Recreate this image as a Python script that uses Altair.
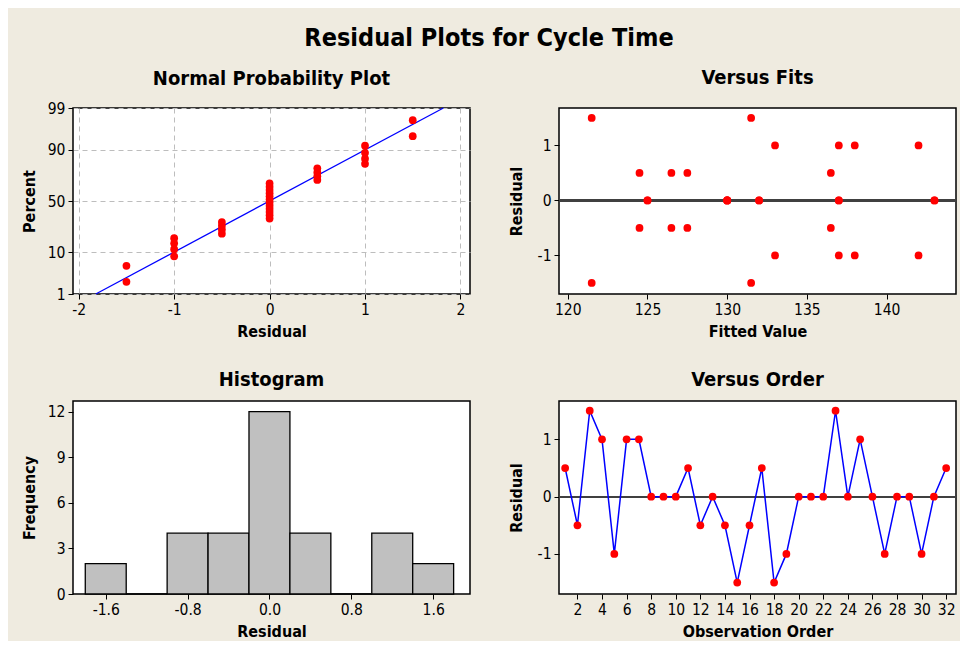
import altair as alt
import pandas as pd
import numpy as np
from statistics import NormalDist

FONT = "DejaVu Sans Condensed, DejaVu Sans, sans-serif"
BG = "#EFEBE0"
RED = "#FF0000"
BLUE = "#0000FF"

# ---- data ----
ORDER = list(range(1, 33))
RESIDUALS = [0.5, -0.5, 1.5, 1, -1, 1, 1, 0, 0, 0, 0.5, -0.5, 0, -0.5, -1.5, -0.5,
             0.5, -1.5, -1, 0, 0, 0, 1.5, 0, 1, 0, -1, 0, 0, -1, 0, 0.5]

FITTED = [121.5, 121.5, 124.5, 124.5, 125, 125, 126.5, 126.5, 127.5, 127.5,
          130, 130, 130, 130, 131.5, 131.5, 132, 132, 133, 133, 136.5, 136.5,
          137, 137, 137, 137, 138, 138, 142, 142, 143, 143]
FIT_RESID = [1.5, -1.5, 0.5, -0.5, 0, 0, 0.5, -0.5, 0.5, -0.5,
             0, 0, 0, 0, 1.5, -1.5, 0, 0, 1, -1, 0.5, -0.5,
             1, 0, 0, -1, 1, -1, 1, -1, 0, 0]

PERCENT_TICKS = [1, 10, 50, 90, 99]
NPP_X_GRID = [-2, -1.5, -1, -0.5, 0, 0.5, 1, 1.5, 2]
HIST_EDGES = [-1.8, -1.4, -1.0, -0.6, -0.2, 0.2, 0.6, 1.0, 1.4, 1.8]
HIST_TICKS = [-1.6, -0.8, 0.0, 0.8, 1.6]
FIT_TICKS = [120, 125, 130, 135, 140]
ORDER_TICKS = list(range(2, 33, 2))
RESID_TICKS = [-1, 0, 1]
FIT_LINE_PCT = [1, 99]

# ---- derived tables ----
n = len(RESIDUALS)
nd = NormalDist()
df_res = pd.DataFrame({"order": ORDER, "residual": RESIDUALS})
df_fit = pd.DataFrame({"fitted": FITTED, "residual": FIT_RESID})

mean_r = float(np.mean(RESIDUALS))
sd_r = float(np.std(RESIDUALS, ddof=1))
z_ticks = [nd.inv_cdf(p / 100) for p in PERCENT_TICKS]
z_line = [nd.inv_cdf(p / 100) for p in FIT_LINE_PCT]
df_line = pd.DataFrame({"z": z_line, "x": [mean_r + sd_r * z for z in z_line]})

counts, _ = np.histogram(np.array(RESIDUALS, dtype=float), bins=np.array(HIST_EDGES))
df_hist = pd.DataFrame({"lo": HIST_EDGES[:-1], "hi": HIST_EDGES[1:], "count": counts})

MINUS = "replace(datum.label, '\u2212', '-')"
PT = 60
W = 397

def axis(**kw):
    base = dict(tickSize=5, tickColor="black", tickWidth=1, domain=False,
                labelPadding=3, grid=False, labelExpr=MINUS)
    base.update(kw)
    return alt.Axis(**base)

def ptitle(text, offset):
    return alt.TitleParams(text, font=FONT, fontSize=20, fontWeight="bold",
                           color="black", frame="group", anchor="middle", offset=offset)

# ---- Normal probability plot ----
npp_x = alt.X("residual:Q", scale=alt.Scale(domain=[-2.06, 2.10], nice=False, zero=False),
              axis=axis(values=NPP_X_GRID, title="Residual", grid=True, gridDash=[5, 4],
                        gridColor="#BDBDBD", gridWidth=1, format="d",
                        labelExpr="datum.value % 1 == 0 ? replace(datum.label, '\u2212', '-') : ''",
                        tickOpacity={"condition": {"test": "datum.value % 1 == 0", "value": 1}, "value": 0}))
npp_y = alt.Y("z:Q", scale=alt.Scale(domain=[z_ticks[0], z_ticks[-1]], nice=False, zero=False),
              axis=axis(values=z_ticks, title="Percent", grid=True, gridDash=[5, 4],
                        gridColor="#BDBDBD", gridWidth=1, titlePadding=10,
                        labelExpr="'' + round(cumulativeNormal(datum.value) * 100)"))

npp_pts = alt.Chart(df_res).transform_window(
    window=[{"op": "row_number", "as": "rank"}],
    sort=[{"field": "residual", "order": "ascending"}],
).transform_calculate(
    z=f"quantileNormal((datum.rank - 0.3) / ({n} + 0.4))"
).mark_circle(color=RED, size=PT, opacity=1).encode(x=npp_x, y=npp_y)

npp_line = alt.Chart(df_line).mark_line(color=BLUE, strokeWidth=1.3).encode(
    x=alt.X("x:Q"), y=alt.Y("z:Q"))

npp = alt.layer(npp_line, npp_pts).properties(
    width=W, height=186, title=ptitle("Normal Probability Plot", 12))

# ---- Versus fits ----
fits_x = alt.X("fitted:Q", scale=alt.Scale(domain=[119.45, 144.35], nice=False, zero=False),
               axis=axis(values=FIT_TICKS, title="Fitted Value", format="d"))
resid_y = alt.Y("residual:Q", scale=alt.Scale(domain=[-1.70, 1.68], nice=False),
                axis=axis(values=RESID_TICKS, title="Residual", format="d", titlePadding=13))

fits_zero = alt.Chart(df_fit).mark_rule(color="#404040", strokeWidth=1.5).encode(y=alt.datum(0))
fits_pts = alt.Chart(df_fit).mark_circle(color=RED, size=PT, opacity=1).encode(x=fits_x, y=resid_y)
fits = alt.layer(fits_zero, fits_pts).properties(
    width=W, height=186, title=ptitle("Versus Fits", 20))

# ---- Histogram ----
hist_x = alt.X("lo:Q", scale=alt.Scale(domain=[-1.92, 1.96], nice=False, zero=False),
               axis=axis(values=HIST_TICKS, title="Residual", format=".1f"))
hist_y = alt.Y("count:Q", scale=alt.Scale(domain=[0, 12.7], nice=False),
               axis=axis(values=[0, 3, 6, 9, 12], title="Frequency", format="d", titlePadding=10))
hist = alt.Chart(df_hist).mark_bar(color="#C0C0C0", stroke="black", strokeWidth=1.3).encode(
    x=hist_x, x2="hi:Q", y=hist_y, y2=alt.datum(0)
).properties(width=W, height=193, title=ptitle("Histogram", 11))

# ---- Versus order ----
ord_x = alt.X("order:Q", scale=alt.Scale(domain=[0.5, 32.8], nice=False, zero=False),
              axis=axis(values=ORDER_TICKS, title="Observation Order", format="d"))
ord_y = alt.Y("residual:Q", scale=alt.Scale(domain=[-1.70, 1.67], nice=False),
              axis=axis(values=RESID_TICKS, title="Residual", format="d", titlePadding=13))
ord_zero = alt.Chart(df_res).mark_rule(color="#404040", strokeWidth=1.5).encode(y=alt.datum(0))
ord_line = alt.Chart(df_res).mark_line(color=BLUE, strokeWidth=1.5).encode(x=ord_x, y=ord_y)
ord_pts = alt.Chart(df_res).mark_circle(color=RED, size=PT, opacity=1).encode(x=ord_x, y=ord_y)
order = alt.layer(ord_zero, ord_line, ord_pts).properties(
    width=W, height=193, title=ptitle("Versus Order", 11))

chart = alt.concat(
    npp, fits, hist, order, columns=2,
    spacing={"row": 107, "column": 89}, bounds="flush",
).properties(
    title=alt.TitleParams("Residual Plots for Cycle Time", font=FONT, fontSize=25,
                          fontWeight="bold", color="black", anchor="middle", offset=16),
    background=BG,
    padding={"left": 12, "top": 18, "right": 2, "bottom": 0},
).configure_view(
    fill="white", stroke="black", strokeWidth=1.5
).configure_axis(
    labelFont=FONT, titleFont=FONT, labelFontSize=15.5, titleFontSize=16,
    titleFontWeight="bold", labelColor="black", titleColor="black", titlePadding=6
)

chart.save("out.html", embed_options={"renderer": "svg", "actions": False})
